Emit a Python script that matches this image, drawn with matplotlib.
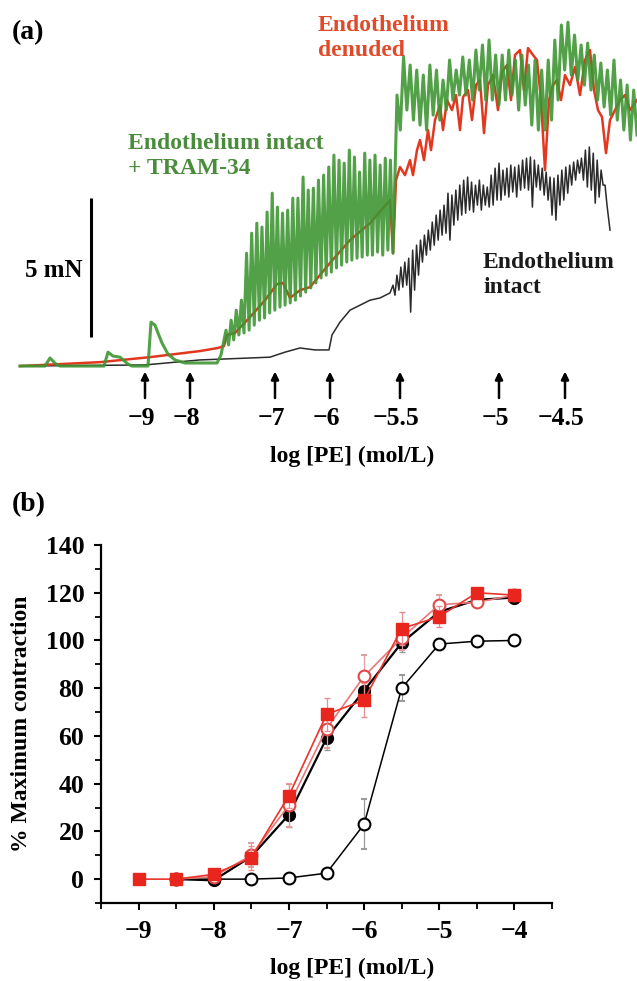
import numpy as np
import matplotlib
matplotlib.use("Agg")
import matplotlib.pyplot as plt

plt.rcParams['font.family'] = ['Liberation Serif', 'DejaVu Serif']
plt.rcParams['font.weight'] = 'bold'

# ---- panel (a): isometric tension traces (time in min, force in mN) ----
red_t = [0, 8, 13, 18, 19.8, 20.4, 20.7, 21.5, 23, 24.5, 25.7, 26.3, 27, 28, 29, 31, 33, 35, 37, 37.3, 37.6,
         38.0, 38.5, 39.0, 39.3, 39.7, 40.0, 40.4, 40.8, 41.1, 41.5, 42.0, 42.3, 42.7, 43.2, 43.6, 44.0, 44.3,
         44.8, 45.2, 45.6, 46.0, 46.4, 46.8, 47.3, 47.8, 48.2, 48.7, 49.1, 49.5, 50.0, 50.4, 50.8, 51.3, 51.7,
         52.1, 52.5, 52.9, 53.3, 53.7, 54.1, 54.5, 55.0, 55.5, 56.0, 56.5, 57.0, 57.4, 57.8, 58.2, 58.6, 59.0,
         59.5, 60.0, 60.5, 61.0, 61.7]
red_f = [0, 0.14, 0.32, 0.54, 0.65, 0.72, 1.12, 1.19, 1.76, 2.37, 2.95, 2.99, 2.45, 2.73, 2.84, 3.71, 4.53, 5.14,
         5.97, 4.06, 6.69,
         7.16, 6.87, 7.41, 6.87, 7.77, 8.13, 7.41, 8.49, 7.77, 8.85, 9.39, 8.49, 9.57, 9.21, 9.75, 8.49, 9.68,
         9.93, 8.85, 10.11, 10.29, 8.38, 10.11, 10.47, 9.21, 10.58, 10.83, 9.57, 11.19, 11.37, 9.93, 11.44,
         11.19, 11.01, 9.57, 7.05, 9.57, 10.11, 10.29, 9.57, 10.47, 10.11, 10.76, 9.75, 11.01, 11.37, 9.93,
         9.21, 8.96, 7.66, 8.85, 9.21, 9.57, 9.75, 9.21, 9.57]

green_slow_t = [0, 2.5, 3.0, 3.6, 4.0, 8.4, 8.8, 9.3, 10.0, 10.8, 11.2, 12.8, 13.1, 13.5, 13.8, 14.2, 14.8,
                15.5, 16.5, 19.7, 20.1]
green_slow_f = [0, 0, 0.29, 0.07, 0, 0, 0.5, 0.36, 0.32, 0.07, 0, 0, 1.58, 1.47, 1.19, 0.83, 0.43, 0.22,
                0.11, 0.11, 0.4]
green1_span = (20.6, 37.3)
green1_peaks = [1.29, 1.65, 2.01, 2.37, 4.06, 4.78, 5.14, 5.0, 5.54, 6.22, 5.72, 5.5, 5.61, 6.04, 6.04, 6.8,
                6.33, 6.4, 6.69, 6.87, 7.16, 7.59, 7.41, 7.3, 7.77, 7.52, 6.98, 7.66, 7.41, 7.59, 7.23, 7.48, 7.41]
green1_troughs = [0.76, 0.94, 1.12, 1.19, 1.29, 1.47, 1.65, 1.73, 1.91, 2.01, 2.12, 2.19, 2.27, 2.37, 2.52,
                  2.66, 2.81, 2.99, 3.17, 3.27, 3.38, 3.53, 3.63, 3.74, 3.81, 3.88, 3.92, 3.99, 3.99, 4.1,
                  3.99, 4.17, 4.06]
green2_span = (37.7, 61.7)
green2_peaks = [9.75, 11.12, 10.83, 10.65, 10.47, 10.83, 10.65, 10.29, 11.01, 10.65, 11.12, 11.01, 11.37,
                11.55, 11.73, 11.19, 11.19, 11.37, 11.01, 11.19, 10.83, 11.01, 10.65, 11.01, 11.73, 12.27,
                12.37, 11.91, 11.55, 11.62, 11.19, 10.9, 10.65, 11.01, 10.29, 10.11, 9.93]
green2_troughs = [8.49, 9.21, 8.85, 8.67, 8.49, 9.03, 8.85, 9.21, 9.57, 9.75, 9.75, 9.57, 9.93, 9.57, 9.57,
                  9.39, 9.57, 9.75, 9.21, 9.39, 8.67, 8.49, 8.49, 8.85, 9.57, 10.65, 10.47, 10.29, 10.11,
                  9.93, 9.57, 9.32, 9.03, 8.85, 8.49, 8.13, 8.31]

black_slow_t = [0, 12.5, 18, 23, 25, 26.5, 28, 29.5, 30.9, 31.2, 32, 33, 34, 35, 36, 37]
black_slow_f = [0, 0.04, 0.22, 0.29, 0.32, 0.5, 0.65, 0.58, 0.58, 1.12, 1.58, 2.01, 2.19, 2.37, 2.45, 2.63]
black_span = (37.3, 58.7)
black_highs = [2.91, 3.27, 3.56, 3.74, 3.88, 4.17, 4.35, 4.53, 4.71, 4.89, 5.18, 5.43, 5.61, 5.79, 6.22,
               6.15, 6.33, 6.51, 6.69, 6.8, 6.62, 6.51, 6.69, 6.51, 6.44, 6.87, 7.12, 7.3, 7.05, 7.12, 7.23,
               7.16, 7.23, 7.41, 7.48, 7.52, 7.41, 7.23, 7.12, 6.98, 6.8, 6.76, 6.87, 7.05, 7.16, 7.23, 7.34,
               7.41, 7.48, 7.77, 7.88, 7.66, 7.41, 7.05, 6.51]
black_lows = [2.55, 2.73, 2.84, 2.91, 1.94, 2.73, 3.27, 3.74, 3.99, 4.17, 4.35, 4.53, 4.71, 4.78, 4.53,
              5.07, 5.25, 5.43, 5.5, 5.61, 5.54, 5.79, 5.61, 5.79, 5.72, 5.79, 5.97, 5.97, 6.15, 6.08, 6.26,
              6.08, 6.33, 6.4, 6.33, 5.72, 6.44, 6.33, 6.15, 5.97, 5.43, 5.25, 5.79, 5.97, 6.22, 6.51, 6.69,
              6.94, 6.69, 6.44, 6.33, 5.86, 6.08, 6.51, 5.79]
black_end = (59.0, 4.89)

dose_t = [12.5, 17.0, 25.5, 31.0, 38.0, 47.9, 54.5]
dose_labels = ['\u22129', '\u22128', '\u22127', '\u22126', '\u22125.5', '\u22125', '\u22124.5']

# ---- panel (b): concentration-response curves ----
log_pe = [-9, -8.5, -8, -7.5, -7, -6.5, -6, -5.5, -5, -4.5, -4]
denuded = [0, 0, 2, 9, 35, 69, 75, 105, 110, 120, 119]
denuded_err = [0, 0, 1, 5, 5, 7, 7, 7, 4.5, 2, 2]
log_pe2 = log_pe[1:]
tram_open = [0, 1, 10, 31, 63, 85, 101, 115, 116, 119]
tram_open_err = [0, 1, 5, 9, 8, 9, 5, 4, 2, 2]
filled = [0, -0.5, 9.5, 27, 59, 79, 99, 112, 117, 118]
filled_err = [0, 1, 3, 5, 5, 4, 4, 3, 2, 2]
intact = [0, 0, 0, 0.5, 2.5, 23, 80, 98.5, 99.7, 100]
intact_err = [0, 0, 0.5, 0.8, 1, 10.5, 5.5, 2, 1, 1]

GREEN = '#3f9634'
RED = '#e2381f'


def zigzag(span, highs, lows):
    n = len(highs)
    t = np.linspace(span[0], span[1], 2 * n)
    f = np.empty(2 * n)
    f[0::2] = highs
    f[1::2] = lows
    return t, f


fig = plt.figure(figsize=(6.37, 9.81), dpi=100)

# panel (a)
axa = fig.add_axes([0, 1 - 470 / 981, 1, 470 / 981])
axa.set_xlim(-2, 61.7)
axa.set_ylim(-3.74, 13.17)
axa.axis('off')

bt, bf = zigzag(black_span, black_highs, black_lows)
axa.plot(np.concatenate([black_slow_t, bt, [black_end[0]]]),
         np.concatenate([black_slow_f, bf, [black_end[1]]]), color='#2b2b2b', lw=1.1, zorder=2)
axa.plot(red_t, red_f, color=RED, lw=1.8, zorder=3)
g1t, g1f = zigzag(green1_span, green1_peaks, green1_troughs)
g2t, g2f = zigzag(green2_span, green2_peaks, green2_troughs)
axa.plot(np.concatenate([green_slow_t, g1t, g2t]), np.concatenate([green_slow_f, g1f, g2f]),
         color=GREEN, lw=2.2, alpha=0.9, zorder=4)

# 5 mN scale bar
axa.plot([7.1, 7.1], [1.04, 6.04], color='black', lw=2.2, solid_capstyle='butt')
axa.text(6.3, 3.45, '5 mN', ha='right', va='center', fontsize=18)

for t, lab in zip(dose_t, dose_labels):
    axa.annotate('', xy=(t, -0.2), xytext=(t, -1.15),
                 arrowprops=dict(arrowstyle='-|>', color='black', lw=1.8, mutation_scale=11,
                                 shrinkA=0, shrinkB=0))
    axa.text(t - 0.4, -1.87, lab, ha='center', va='center', fontsize=18.5)
axa.text(33.2, -3.25, 'log [PE] (mol/L)', ha='center', va='center', fontsize=17)

axa.text(10.8, 7.55, 'Endothelium intact\n+ TRAM-34', color='#4a8c3c', ha='left', va='center',
         fontsize=17, linespacing=1.22)
axa.text(29.8, 11.8, 'Endothelium\ndenuded', color='#e04a28', ha='left', va='center',
         fontsize=17, linespacing=1.22)
axa.text(46.3, 3.28, 'Endothelium\nintact', color='#1a1a1a', ha='left', va='center',
         fontsize=17, linespacing=1.22)

fig.text(12 / 637, 1 - 33 / 981, '(a)', ha='left', va='center', fontsize=20)
fig.text(12 / 637, 1 - 505 / 981, '(b)', ha='left', va='center', fontsize=20)

# panel (b)
axb = fig.add_axes([101 / 637, 1 - 903 / 981, 451 / 637, 358 / 981])
axb.set_xlim(-9.5, -3.5)
axb.set_ylim(-10, 140)
ms = 8.5
axb.errorbar(log_pe2, intact, yerr=intact_err, color='black', lw=1.1, marker='o', ms=ms,
             mfc='white', mec='black', mew=1.5, ecolor='#9a9a9a', elinewidth=0.9, capsize=2, zorder=3)
axb.errorbar(log_pe2, filled, yerr=filled_err, color='black', lw=1.6, marker='o', ms=ms,
             mfc='black', mec='black', ecolor='#9a9a9a', elinewidth=0.9, capsize=2, zorder=4)
axb.errorbar(log_pe2, tram_open, yerr=tram_open_err, color='#e8787a', lw=1.2, marker='o', ms=ms,
             mfc='white', mec='#e04848', mew=1.5, ecolor='#e0a0a0', elinewidth=0.9, capsize=2, zorder=5)
axb.errorbar(log_pe, denuded, yerr=denuded_err, color='#e8342a', lw=1.2, marker='s', ms=ms,
             mfc='#e8261e', mec='#e8261e', ecolor='#e89090', elinewidth=0.9, capsize=2, zorder=6)

for s in ['top', 'right']:
    axb.spines[s].set_visible(False)
for s in ['left', 'bottom']:
    axb.spines[s].set_linewidth(1.6)
axb.set_xticks(range(-9, -3))
axb.set_xticklabels(['\u22129', '\u22128', '\u22127', '\u22126', '\u22125', '\u22124'])
axb.set_xticks(np.arange(-9.5, -3.4, 0.5), minor=True)
axb.set_yticks(range(0, 141, 20))
axb.set_yticks(range(-10, 141, 10), minor=True)
axb.tick_params(which='major', length=5, width=1.5, labelsize=18.5, pad=7)
axb.tick_params(which='minor', length=4, width=1.3)
fig.text(352 / 637, 1 - 968 / 981, 'log [PE] (mol/L)', ha='center', va='center', fontsize=17)
fig.text(22 / 637, 1 - 724 / 981, '% Maximum contraction', ha='center', va='center', rotation=90,
         fontsize=17)

fig.savefig('out.png', dpi=100)
